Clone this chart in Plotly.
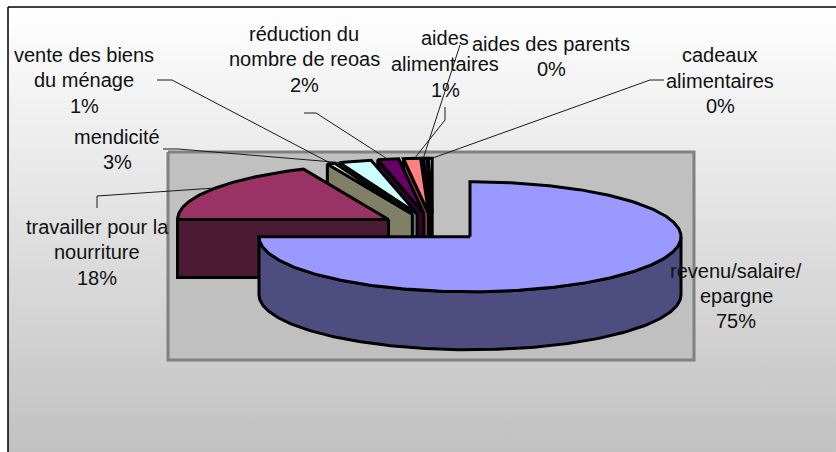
import numpy as np
import plotly.graph_objects as go

categories = ["revenu/salaire/ epargne", "travailler pour la nourriture", "vente des biens du ménage",
              "mendicité", "réduction du nombre de reoas", "aides alimentaires",
              "aides des parents", "cadeaux alimentaires"]
shares = [75, 18.4, 0.6, 2.5, 1.6, 1.3, 0.3, 0.3]
top_colors = ["#9999FF", "#993366", "#FFFFCC", "#CCFFFF", "#660066", "#FF8080", "#0066CC", "#CCCCFF"]
side_colors = ["#4D4D80", "#4D1A33", "#808066", "#668080", "#330033", "#804040", "#003366", "#666680"]

label_lines = [
    (["revenu/salaire/", "epargne", "75%"], 736, [271, 296, 321]),
    (["travailler pour la", "nourriture", "18%"], 97, [227, 252, 278]),
    (["vente des biens", "du ménage", "1%"], 84, [55, 80, 106]),
    (["mendicité", "3%"], 117, [137, 162]),
    (["réduction du", "nombre de reoas", "2%"], 304, [34, 59, 85]),
    (["aides", "alimentaires", "1%"], 445, [38, 64, 90]),
    (["aides des parents", "0%"], 551, [44, 69]),
    (["cadeaux", "alimentaires", "0%"], 720, [55, 81, 106]),
]
leaders = [
    ([97, 97, 215], [208, 196, 188]),
    ([157, 172, 334], [80, 80, 165]),
    ([163, 178, 345], [149, 149, 163]),
    ([304, 316, 386], [113, 113, 158]),
    ([445, 445, 414], [107, 120, 159]),
    ([460, 423], [45, 159]),
    ([664, 650, 430], [80, 80, 159]),
]

# Pie geometry
CX, CY, RX, RY, DEPTH, EXPLODE = 432.7, 227, 211, 55, 58, 0.25

fig = go.Figure()


def poly(xs, ys, fill, line="#000000", width=3):
    fig.add_trace(go.Scatter(x=list(xs), y=list(ys), mode="lines", fill="toself", fillcolor=fill,
                             line=dict(color=line, width=width), hoverinfo="skip", showlegend=False))


# Background panel and plot area
fig.add_trace(go.Scatter(x=[8, 900, 900, 8, 8], y=[7, 7, 460, 460, 7], mode="lines", fill="toself",
                         fillgradient=dict(type="vertical",
                                           colorscale=[[0, "#C0C0C0"], [1, "#FFFFFF"]]),
                         line=dict(color="#000000", width=1.5), hoverinfo="skip", showlegend=False))
poly([168, 694, 694, 168, 168], [152, 152, 360, 360, 152], "#C0C0C0", "#808080", 3)

# Slices
total = sum(shares)
edges = np.cumsum([0] + shares) / total * 2 * np.pi
order = list(range(len(shares) - 1, -1, -1))
for i in order:
    a0, a1 = edges[i], edges[i + 1]
    mid = (a0 + a1) / 2
    cx = CX + EXPLODE * RX * np.sin(mid)
    cy = CY - EXPLODE * RY * np.cos(mid)
    t = np.linspace(a0, a1, max(4, int(np.degrees(a1 - a0))))
    ax = cx + RX * np.sin(t)
    ay = cy - RY * np.cos(t)
    # wall on the starting radial edge
    if i != 0:
        sx, sy = ax[0], ay[0]
        poly([cx, sx, sx, cx, cx], [cy, sy, sy + DEPTH, cy + DEPTH, cy], side_colors[i])
    # curved outer side, front half only
    lo, hi = max(a0, np.pi / 2), min(a1, 3 * np.pi / 2)
    if hi > lo:
        s = np.linspace(lo, hi, 200)
        ox = cx + RX * np.sin(s)
        oy = cy - RY * np.cos(s)
        poly(np.r_[ox, ox[::-1], ox[0]], np.r_[oy, oy[::-1] + DEPTH, oy[0]], side_colors[i])
    poly(np.r_[cx, ax, cx], np.r_[cy, ay, cy], top_colors[i])

# Leader lines
for lx, ly in leaders:
    fig.add_trace(go.Scatter(x=lx, y=ly, mode="lines", line=dict(color="#1A1A1A", width=1),
                             hoverinfo="skip", showlegend=False))

# Labels
annotations = []
for lines, x, ys in label_lines:
    for text, y in zip(lines, ys):
        annotations.append(dict(x=x, y=y, text=text, showarrow=False, xanchor="center", yanchor="middle",
                                font=dict(family="Liberation Sans", size=20, color="#111111")))

fig.update_layout(
    width=836, height=452, margin=dict(l=0, r=0, t=0, b=0),
    paper_bgcolor="#FFFFFF", plot_bgcolor="#FFFFFF", showlegend=False, annotations=annotations,
    xaxis=dict(range=[0, 836], visible=False, fixedrange=True),
    yaxis=dict(range=[452, 0], visible=False, fixedrange=True),
)
fig.write_html("out.html", config={"displayModeBar": False},
               post_script="document.body.style.margin='0';document.documentElement.style.overflow='hidden';")
